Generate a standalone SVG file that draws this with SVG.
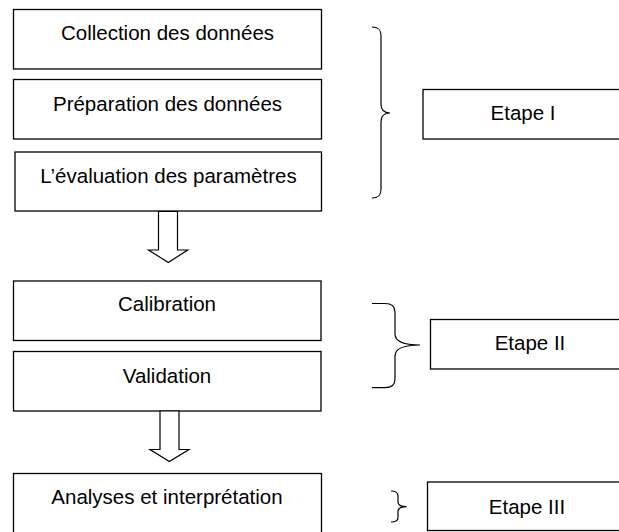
<svg xmlns="http://www.w3.org/2000/svg" width="619" height="532" viewBox="0 0 619 532">
<style>
.box{fill:#fff;stroke:#000;stroke-width:1.3}
.t{font-family:"Liberation Sans",Arial,sans-serif;font-size:20.5px;fill:#000;text-anchor:middle}
.br{fill:none;stroke:#000;stroke-width:1.2}
.ar{fill:#fff;stroke:#000;stroke-width:1.2;stroke-linejoin:miter}
</style>
<rect width="619" height="532" fill="#fff"/>
<g id="n-collection"><rect class="box" x="13.5" y="9.5" width="308" height="59.5"/><text class="t" x="167.5" y="40">Collection des données</text></g>
<g id="n-preparation"><rect class="box" x="13.5" y="79.5" width="308" height="59.5"/><text class="t" x="167.5" y="111">Préparation des données</text></g>
<g id="n-evaluation"><rect class="box" x="15" y="152" width="306.5" height="59"/><text class="t" x="168.5" y="183">L’évaluation des paramètres</text></g>
<g id="n-etape1"><rect class="box" x="423" y="89.5" width="200" height="49.5"/><text class="t" x="523" y="120">Etape I</text></g>
<g id="n-calibration"><rect class="box" x="13.5" y="281" width="307.5" height="59.5"/><text class="t" x="167" y="311">Calibration</text></g>
<g id="n-validation"><rect class="box" x="13.5" y="351.5" width="307.5" height="59.5"/><text class="t" x="167" y="382.5">Validation</text></g>
<g id="n-etape2"><rect class="box" x="430.5" y="319.5" width="200" height="49.5"/><text class="t" x="530" y="350">Etape II</text></g>
<g id="n-analyses"><rect class="box" x="13.5" y="473.5" width="308" height="70"/><text class="t" x="167" y="504">Analyses et interprétation</text></g>
<g id="n-etape3"><rect class="box" x="427.5" y="482" width="200" height="48.5"/><text class="t" x="527" y="513.5">Etape III</text></g>
<g id="connectors">
<path class="ar" d="M158.5 211.5 V250 H148.5 L168.3 262.5 L187.7 250 H177.5 V211.5 Z"/>
<path class="ar" d="M160 411 V449.5 H150 L169.3 461.5 L189 449.5 H179 V411 Z"/>
<path class="br" d="M372 27 C378 27 381 29 381 36 V104 C381 110 384 113 390 113 C384 113 381 116 381 122 V189 C381 196 378 198 372 198"/>
<path class="br" d="M372 303.5 H385 C392 303.5 395 306 395 312 V334 C395 341 402 345 420 345 C402 345 395 349 395 356 V379 C395 385 392 387.7 385 387.7 H372"/>
<path class="br" d="M391 491 C396 491 398 492.5 398 496 V502 C398 505 401 506.7 406.5 506.7 C401 506.7 398 508.5 398 511.5 V517.5 C398 520.5 396 522 391 522"/>
</g>
</svg>
